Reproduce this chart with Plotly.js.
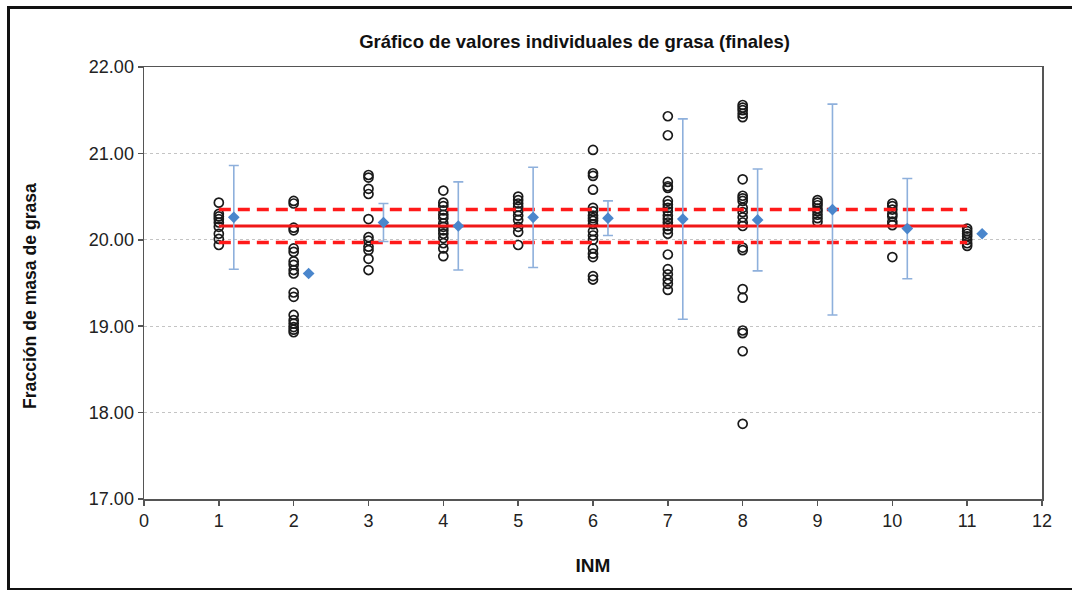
<!DOCTYPE html>
<html>
<head>
<meta charset="utf-8">
<script src="https://cdn.plot.ly/plotly-3.0.1.min.js"></script>
<style>
  html, body { margin: 0; padding: 0; background: #fff; }
  #chart { width: 1072px; height: 590px; position: relative; }
  #frame { position: absolute; left: 7px; top: 6px; width: 1100px; height: 579px; border: 3px solid #111; pointer-events: none; z-index: 10; }
</style>
</head>
<body>
<div id="chart"></div>
<div id="frame"></div>
<script>
// ---- data ----
const inm = [1, 2, 3, 4, 5, 6, 7, 8, 9, 10, 11];

const lab1  = [20.43, 20.30, 20.27, 20.24, 20.20, 20.15, 20.07, 20.01, 19.94];
const lab2  = [20.45, 20.42, 20.14, 20.11, 19.90, 19.86, 19.75, 19.71, 19.65, 19.61, 19.39, 19.34, 19.13, 19.07, 19.03, 18.99, 18.96, 18.93];
const lab3  = [20.75, 20.72, 20.59, 20.53, 20.24, 20.03, 19.99, 19.92, 19.88, 19.78, 19.65];
const lab4  = [20.57, 20.43, 20.39, 20.34, 20.29, 20.25, 20.19, 20.15, 20.11, 20.07, 20.02, 19.96, 19.90, 19.81];
const lab5  = [20.50, 20.46, 20.42, 20.38, 20.33, 20.28, 20.23, 20.15, 20.09, 19.94];
const lab6  = [21.04, 20.77, 20.74, 20.58, 20.37, 20.33, 20.28, 20.25, 20.22, 20.18, 20.10, 20.05, 20.00, 19.90, 19.84, 19.80, 19.58, 19.54];
const lab7  = [21.43, 21.21, 20.67, 20.62, 20.60, 20.45, 20.41, 20.37, 20.33, 20.28, 20.24, 20.20, 20.16, 20.12, 20.07, 19.83, 19.66, 19.60, 19.54, 19.49, 19.42];
const lab8  = [21.56, 21.53, 21.50, 21.46, 21.42, 20.70, 20.51, 20.48, 20.45, 20.37, 20.32, 20.26, 20.20, 20.16, 19.91, 19.88, 19.43, 19.33, 18.95, 18.92, 18.71, 17.87];
const lab9  = [20.46, 20.43, 20.40, 20.36, 20.33, 20.29, 20.25, 20.21];
const lab10 = [20.42, 20.39, 20.35, 20.30, 20.27, 20.21, 20.17, 19.80];
const lab11 = [20.13, 20.10, 20.07, 20.04, 20.00, 19.96, 19.93];

const labMeans = [20.26, 19.61, 20.20, 20.16, 20.26, 20.25, 20.24, 20.23, 20.35, 20.13, 20.07];
const labUnc   = [0.60, null, 0.22, 0.51, 0.58, 0.20, 1.16, 0.59, 1.22, 0.58, null];

const refValue = 20.16;
const refUnc = 0.19;
const refSpan = [1, 11];

const xTicks = [0,1,2,3,4,5,6,7,8,9,10,11,12];
const yTicks = [17, 18, 19, 20, 21, 22];

// ---- build traces ----
const labs = [lab1, lab2, lab3, lab4, lab5, lab6, lab7, lab8, lab9, lab10, lab11];
const cx = [], cy = [];
labs.forEach((vals, i) => { vals.forEach(v => { cx.push(inm[i]); cy.push(v); }); });

const meanOffset = 0.2;
const traces = [
  {
    type: 'scatter', mode: 'markers', x: cx, y: cy, hoverinfo: 'y',
    marker: { symbol: 'circle-open', size: 9, color: '#1a1a1a', line: { width: 1.7 } },
    showlegend: false
  },
  {
    type: 'scatter', mode: 'lines', x: refSpan, y: refSpan.map(() => refValue + refUnc),
    line: { color: '#ff1a1a', width: 3.5, dash: '12px,7px' }, showlegend: false, hoverinfo: 'skip'
  },
  {
    type: 'scatter', mode: 'lines', x: refSpan, y: refSpan.map(() => refValue - refUnc),
    line: { color: '#ff1a1a', width: 3.5, dash: '12px,7px' }, showlegend: false, hoverinfo: 'skip'
  },
  {
    type: 'scatter', mode: 'lines', x: refSpan, y: refSpan.map(() => refValue),
    line: { color: '#f01818', width: 3 }, showlegend: false, hoverinfo: 'skip'
  },
  {
    type: 'scatter', mode: 'markers', x: inm.map(v => v + meanOffset), y: labMeans,
    error_y: { type: 'data', array: labUnc, visible: true, color: '#8eb0dc', thickness: 1.6, width: 5 },
    marker: { symbol: 'diamond', size: 9, color: '#4a86cc' },
    showlegend: false
  }
];

const layout = {
  width: 1072, height: 590,
  margin: { l: 144, r: 30, t: 67, b: 91 },
  paper_bgcolor: '#ffffff', plot_bgcolor: '#ffffff',
  font: { family: 'Liberation Sans, Arial, sans-serif', color: '#222' },
  title: {
    text: '<b>Gráfico de valores individuales de grasa (finales)</b>',
    font: { size: 18.5, color: '#111' }, x: 0.536, xanchor: 'center', y: 0.93, yanchor: 'middle'
  },
  xaxis: {
    range: [0, 12], tickvals: xTicks, ticktext: xTicks.map(String),
    showgrid: false, zeroline: false,
    showline: true, linecolor: '#555', linewidth: 1.5, mirror: true,
    ticks: 'outside', ticklen: 5, tickcolor: '#555', tickwidth: 1.5,
    tickfont: { size: 18, color: '#222' },
    title: { text: '<b>INM</b>', font: { size: 19, color: '#111' }, standoff: 28 }
  },
  yaxis: {
    range: [17, 22], tickvals: yTicks, ticktext: yTicks.map(v => v.toFixed(2)),
    showgrid: true, gridcolor: '#c4c4c4', gridwidth: 1, griddash: 'dot',
    zeroline: false,
    showline: true, linecolor: '#555', linewidth: 1.5, mirror: true,
    ticks: 'outside', ticklen: 5, tickcolor: '#555', tickwidth: 1.5,
    tickfont: { size: 18, color: '#222' }
  },
  annotations: [{
    text: '<b>Fracción de masa de grasa</b>', textangle: -90, showarrow: false,
    xref: 'paper', yref: 'paper', x: (30 - 144) / 898, y: (499 - 296) / 432,
    xanchor: 'center', yanchor: 'middle', font: { size: 17.6, color: '#111' }
  }],
  showlegend: false
};

Plotly.newPlot('chart', traces, layout, { displayModeBar: false, staticPlot: true });
</script>
</body>
</html>
